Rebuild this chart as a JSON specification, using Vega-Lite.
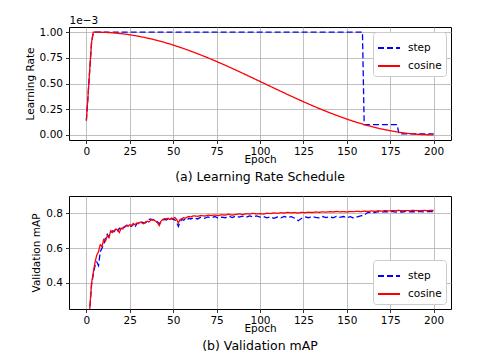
{
  "$schema": "https://vega.github.io/schema/vega-lite/v6.json",
  "background": "white",
  "padding": {"left": 24, "top": 14, "right": 5, "bottom": 5},
  "config": {
    "font": "DejaVu Sans",
    "view": {"stroke": "black", "strokeWidth": 1},
    "axis": {"domain": false, "grid": true, "gridColor": "#b0b0b0", "gridWidth": 0.8, "tickColor": "black", "tickSize": 3.5, "tickWidth": 0.8, "labelFont": "DejaVu Sans", "labelFontSize": 10.5, "labelColor": "black", "labelPadding": 3, "titleFont": "DejaVu Sans", "titleFontSize": 10.5, "titleFontWeight": "normal", "titleColor": "black"},
    "legend": {"title": null, "padding": 4, "strokeColor": "#cccccc", "fillColor": "white", "cornerRadius": 3, "symbolType": "stroke", "symbolSize": 484, "symbolStrokeWidth": 1.8, "labelFont": "DejaVu Sans", "labelFontSize": 10.5, "labelColor": "black", "labelOffset": 7, "rowPadding": -10, "offset": 5},
    "title": {"font": "DejaVu Sans", "fontSize": 12.5, "fontWeight": "normal", "color": "black", "orient": "bottom", "anchor": "middle"},
    "concat": {"spacing": 11}
  },
  "datasets": {
    "lr_step": [
      {"epoch": 0, "lr": 0.14, "series": "step"},
      {"epoch": 1, "lr": 0.39, "series": "step"},
      {"epoch": 2, "lr": 0.65, "series": "step"},
      {"epoch": 3, "lr": 0.9, "series": "step"},
      {"epoch": 4, "lr": 1.0, "series": "step"},
      {"epoch": 159, "lr": 1.0, "series": "step"},
      {"epoch": 160, "lr": 0.1, "series": "step"},
      {"epoch": 179, "lr": 0.1, "series": "step"},
      {"epoch": 180, "lr": 0.01, "series": "step"},
      {"epoch": 200, "lr": 0.01, "series": "step"}
    ],
    "lr_cos": [
      {"epoch": 0, "lr": 0.14, "series": "cosine"},
      {"epoch": 1, "lr": 0.39, "series": "cosine"},
      {"epoch": 2, "lr": 0.65, "series": "cosine"},
      {"epoch": 3, "lr": 0.9, "series": "cosine"},
      {"epoch": 4, "lr": 1.0, "series": "cosine"},
      {"epoch": 5, "lr": 1.0, "series": "cosine"},
      {"epoch": 10, "lr": 0.9984, "series": "cosine"},
      {"epoch": 15, "lr": 0.9935, "series": "cosine"},
      {"epoch": 20, "lr": 0.9855, "series": "cosine"},
      {"epoch": 25, "lr": 0.9743, "series": "cosine"},
      {"epoch": 30, "lr": 0.96, "series": "cosine"},
      {"epoch": 35, "lr": 0.9427, "series": "cosine"},
      {"epoch": 40, "lr": 0.9226, "series": "cosine"},
      {"epoch": 45, "lr": 0.8998, "series": "cosine"},
      {"epoch": 50, "lr": 0.8743, "series": "cosine"},
      {"epoch": 55, "lr": 0.8463, "series": "cosine"},
      {"epoch": 60, "lr": 0.8161, "series": "cosine"},
      {"epoch": 65, "lr": 0.784, "series": "cosine"},
      {"epoch": 70, "lr": 0.75, "series": "cosine"},
      {"epoch": 75, "lr": 0.7143, "series": "cosine"},
      {"epoch": 80, "lr": 0.6773, "series": "cosine"},
      {"epoch": 85, "lr": 0.6391, "series": "cosine"},
      {"epoch": 90, "lr": 0.6, "series": "cosine"},
      {"epoch": 95, "lr": 0.5603, "series": "cosine"},
      {"epoch": 100, "lr": 0.5201, "series": "cosine"},
      {"epoch": 105, "lr": 0.4799, "series": "cosine"},
      {"epoch": 110, "lr": 0.4397, "series": "cosine"},
      {"epoch": 115, "lr": 0.4, "series": "cosine"},
      {"epoch": 120, "lr": 0.3609, "series": "cosine"},
      {"epoch": 125, "lr": 0.3227, "series": "cosine"},
      {"epoch": 130, "lr": 0.2857, "series": "cosine"},
      {"epoch": 135, "lr": 0.25, "series": "cosine"},
      {"epoch": 140, "lr": 0.216, "series": "cosine"},
      {"epoch": 145, "lr": 0.1839, "series": "cosine"},
      {"epoch": 150, "lr": 0.1537, "series": "cosine"},
      {"epoch": 155, "lr": 0.1257, "series": "cosine"},
      {"epoch": 160, "lr": 0.1002, "series": "cosine"},
      {"epoch": 165, "lr": 0.0774, "series": "cosine"},
      {"epoch": 170, "lr": 0.0573, "series": "cosine"},
      {"epoch": 175, "lr": 0.04, "series": "cosine"},
      {"epoch": 180, "lr": 0.0257, "series": "cosine"},
      {"epoch": 185, "lr": 0.0145, "series": "cosine"},
      {"epoch": 190, "lr": 0.0065, "series": "cosine"},
      {"epoch": 195, "lr": 0.0016, "series": "cosine"},
      {"epoch": 200, "lr": 0.0, "series": "cosine"}
    ],
    "map_step": [
      {"epoch": 1, "map": 0.11, "series": "step"}, {"epoch": 2, "map": 0.25, "series": "step"}, {"epoch": 3, "map": 0.39, "series": "step"}, {"epoch": 4, "map": 0.45, "series": "step"}, {"epoch": 5, "map": 0.5, "series": "step"}, {"epoch": 6, "map": 0.52, "series": "step"}, {"epoch": 7, "map": 0.5, "series": "step"}, {"epoch": 8, "map": 0.58, "series": "step"}, {"epoch": 9, "map": 0.6, "series": "step"}, {"epoch": 10, "map": 0.62, "series": "step"},
      {"epoch": 11, "map": 0.66, "series": "step"}, {"epoch": 12, "map": 0.68, "series": "step"}, {"epoch": 13, "map": 0.665, "series": "step"}, {"epoch": 14, "map": 0.69, "series": "step"}, {"epoch": 15, "map": 0.7, "series": "step"}, {"epoch": 16, "map": 0.695, "series": "step"}, {"epoch": 17, "map": 0.71, "series": "step"}, {"epoch": 18, "map": 0.7, "series": "step"}, {"epoch": 19, "map": 0.715, "series": "step"}, {"epoch": 20, "map": 0.705, "series": "step"},
      {"epoch": 21, "map": 0.72, "series": "step"}, {"epoch": 22, "map": 0.72, "series": "step"}, {"epoch": 23, "map": 0.73, "series": "step"}, {"epoch": 24, "map": 0.735, "series": "step"}, {"epoch": 25, "map": 0.73, "series": "step"}, {"epoch": 26, "map": 0.725, "series": "step"}, {"epoch": 27, "map": 0.74, "series": "step"}, {"epoch": 28, "map": 0.72, "series": "step"}, {"epoch": 29, "map": 0.74, "series": "step"}, {"epoch": 30, "map": 0.745, "series": "step"},
      {"epoch": 31, "map": 0.74, "series": "step"}, {"epoch": 32, "map": 0.75, "series": "step"}, {"epoch": 33, "map": 0.745, "series": "step"}, {"epoch": 34, "map": 0.745, "series": "step"}, {"epoch": 35, "map": 0.755, "series": "step"}, {"epoch": 36, "map": 0.765, "series": "step"}, {"epoch": 37, "map": 0.768, "series": "step"}, {"epoch": 38, "map": 0.762, "series": "step"}, {"epoch": 39, "map": 0.765, "series": "step"}, {"epoch": 40, "map": 0.758, "series": "step"},
      {"epoch": 41, "map": 0.75, "series": "step"}, {"epoch": 42, "map": 0.74, "series": "step"}, {"epoch": 43, "map": 0.752, "series": "step"}, {"epoch": 44, "map": 0.76, "series": "step"}, {"epoch": 45, "map": 0.765, "series": "step"}, {"epoch": 46, "map": 0.762, "series": "step"}, {"epoch": 47, "map": 0.768, "series": "step"}, {"epoch": 48, "map": 0.76, "series": "step"}, {"epoch": 49, "map": 0.77, "series": "step"}, {"epoch": 50, "map": 0.765, "series": "step"},
      {"epoch": 51, "map": 0.762, "series": "step"}, {"epoch": 52, "map": 0.748, "series": "step"}, {"epoch": 53, "map": 0.725, "series": "step"}, {"epoch": 54, "map": 0.752, "series": "step"}, {"epoch": 55, "map": 0.765, "series": "step"}, {"epoch": 56, "map": 0.76, "series": "step"}, {"epoch": 57, "map": 0.768, "series": "step"}, {"epoch": 58, "map": 0.762, "series": "step"}, {"epoch": 59, "map": 0.772, "series": "step"}, {"epoch": 60, "map": 0.768, "series": "step"},
      {"epoch": 62, "map": 0.775, "series": "step"}, {"epoch": 64, "map": 0.768, "series": "step"}, {"epoch": 66, "map": 0.778, "series": "step"}, {"epoch": 68, "map": 0.772, "series": "step"}, {"epoch": 70, "map": 0.78, "series": "step"}, {"epoch": 72, "map": 0.775, "series": "step"}, {"epoch": 74, "map": 0.782, "series": "step"}, {"epoch": 76, "map": 0.772, "series": "step"}, {"epoch": 78, "map": 0.778, "series": "step"}, {"epoch": 80, "map": 0.775, "series": "step"},
      {"epoch": 82, "map": 0.784, "series": "step"}, {"epoch": 84, "map": 0.776, "series": "step"}, {"epoch": 86, "map": 0.785, "series": "step"}, {"epoch": 88, "map": 0.779, "series": "step"}, {"epoch": 90, "map": 0.784, "series": "step"}, {"epoch": 92, "map": 0.778, "series": "step"}, {"epoch": 94, "map": 0.786, "series": "step"}, {"epoch": 96, "map": 0.78, "series": "step"}, {"epoch": 98, "map": 0.785, "series": "step"}, {"epoch": 100, "map": 0.779, "series": "step"},
      {"epoch": 102, "map": 0.782, "series": "step"}, {"epoch": 104, "map": 0.774, "series": "step"}, {"epoch": 106, "map": 0.78, "series": "step"}, {"epoch": 108, "map": 0.772, "series": "step"}, {"epoch": 110, "map": 0.779, "series": "step"}, {"epoch": 112, "map": 0.774, "series": "step"}, {"epoch": 114, "map": 0.782, "series": "step"}, {"epoch": 116, "map": 0.776, "series": "step"}, {"epoch": 118, "map": 0.781, "series": "step"}, {"epoch": 120, "map": 0.772, "series": "step"},
      {"epoch": 122, "map": 0.758, "series": "step"}, {"epoch": 124, "map": 0.772, "series": "step"}, {"epoch": 126, "map": 0.78, "series": "step"}, {"epoch": 128, "map": 0.775, "series": "step"}, {"epoch": 130, "map": 0.783, "series": "step"}, {"epoch": 132, "map": 0.777, "series": "step"}, {"epoch": 134, "map": 0.774, "series": "step"}, {"epoch": 136, "map": 0.782, "series": "step"}, {"epoch": 138, "map": 0.776, "series": "step"}, {"epoch": 140, "map": 0.781, "series": "step"},
      {"epoch": 142, "map": 0.775, "series": "step"}, {"epoch": 144, "map": 0.783, "series": "step"}, {"epoch": 146, "map": 0.777, "series": "step"}, {"epoch": 148, "map": 0.782, "series": "step"}, {"epoch": 150, "map": 0.775, "series": "step"}, {"epoch": 152, "map": 0.781, "series": "step"}, {"epoch": 154, "map": 0.773, "series": "step"}, {"epoch": 156, "map": 0.78, "series": "step"}, {"epoch": 158, "map": 0.786, "series": "step"}, {"epoch": 160, "map": 0.79, "series": "step"},
      {"epoch": 162, "map": 0.805, "series": "step"}, {"epoch": 164, "map": 0.807, "series": "step"}, {"epoch": 166, "map": 0.805, "series": "step"}, {"epoch": 168, "map": 0.81, "series": "step"}, {"epoch": 170, "map": 0.807, "series": "step"}, {"epoch": 172, "map": 0.81, "series": "step"}, {"epoch": 174, "map": 0.808, "series": "step"}, {"epoch": 176, "map": 0.811, "series": "step"}, {"epoch": 178, "map": 0.807, "series": "step"}, {"epoch": 180, "map": 0.81, "series": "step"},
      {"epoch": 182, "map": 0.808, "series": "step"}, {"epoch": 184, "map": 0.811, "series": "step"}, {"epoch": 186, "map": 0.809, "series": "step"}, {"epoch": 188, "map": 0.81, "series": "step"}, {"epoch": 190, "map": 0.808, "series": "step"}, {"epoch": 192, "map": 0.811, "series": "step"}, {"epoch": 194, "map": 0.809, "series": "step"}, {"epoch": 196, "map": 0.81, "series": "step"}, {"epoch": 198, "map": 0.81, "series": "step"}, {"epoch": 200, "map": 0.81, "series": "step"}
    ],
    "map_cos": [
      {"epoch": 1, "map": 0.12, "series": "cosine"}, {"epoch": 2, "map": 0.26, "series": "cosine"}, {"epoch": 3, "map": 0.4, "series": "cosine"}, {"epoch": 4, "map": 0.46, "series": "cosine"}, {"epoch": 5, "map": 0.52, "series": "cosine"}, {"epoch": 6, "map": 0.56, "series": "cosine"}, {"epoch": 7, "map": 0.58, "series": "cosine"}, {"epoch": 8, "map": 0.62, "series": "cosine"}, {"epoch": 9, "map": 0.61, "series": "cosine"}, {"epoch": 10, "map": 0.65, "series": "cosine"},
      {"epoch": 11, "map": 0.64, "series": "cosine"}, {"epoch": 12, "map": 0.67, "series": "cosine"}, {"epoch": 13, "map": 0.66, "series": "cosine"}, {"epoch": 14, "map": 0.7, "series": "cosine"}, {"epoch": 15, "map": 0.69, "series": "cosine"}, {"epoch": 16, "map": 0.7, "series": "cosine"}, {"epoch": 17, "map": 0.71, "series": "cosine"}, {"epoch": 18, "map": 0.705, "series": "cosine"}, {"epoch": 19, "map": 0.69, "series": "cosine"}, {"epoch": 20, "map": 0.715, "series": "cosine"},
      {"epoch": 21, "map": 0.71, "series": "cosine"}, {"epoch": 22, "map": 0.725, "series": "cosine"}, {"epoch": 23, "map": 0.73, "series": "cosine"}, {"epoch": 24, "map": 0.725, "series": "cosine"}, {"epoch": 25, "map": 0.735, "series": "cosine"}, {"epoch": 26, "map": 0.73, "series": "cosine"}, {"epoch": 27, "map": 0.74, "series": "cosine"}, {"epoch": 28, "map": 0.735, "series": "cosine"}, {"epoch": 29, "map": 0.745, "series": "cosine"}, {"epoch": 30, "map": 0.74, "series": "cosine"},
      {"epoch": 31, "map": 0.75, "series": "cosine"}, {"epoch": 32, "map": 0.745, "series": "cosine"}, {"epoch": 33, "map": 0.74, "series": "cosine"}, {"epoch": 34, "map": 0.75, "series": "cosine"}, {"epoch": 35, "map": 0.755, "series": "cosine"}, {"epoch": 36, "map": 0.75, "series": "cosine"}, {"epoch": 37, "map": 0.76, "series": "cosine"}, {"epoch": 38, "map": 0.765, "series": "cosine"}, {"epoch": 39, "map": 0.76, "series": "cosine"}, {"epoch": 40, "map": 0.755, "series": "cosine"},
      {"epoch": 41, "map": 0.745, "series": "cosine"}, {"epoch": 42, "map": 0.73, "series": "cosine"}, {"epoch": 43, "map": 0.755, "series": "cosine"}, {"epoch": 44, "map": 0.765, "series": "cosine"}, {"epoch": 45, "map": 0.77, "series": "cosine"}, {"epoch": 46, "map": 0.768, "series": "cosine"}, {"epoch": 47, "map": 0.772, "series": "cosine"}, {"epoch": 48, "map": 0.765, "series": "cosine"}, {"epoch": 49, "map": 0.773, "series": "cosine"}, {"epoch": 50, "map": 0.77, "series": "cosine"},
      {"epoch": 51, "map": 0.776, "series": "cosine"}, {"epoch": 52, "map": 0.765, "series": "cosine"}, {"epoch": 53, "map": 0.745, "series": "cosine"}, {"epoch": 54, "map": 0.765, "series": "cosine"}, {"epoch": 55, "map": 0.77, "series": "cosine"}, {"epoch": 56, "map": 0.775, "series": "cosine"}, {"epoch": 57, "map": 0.772, "series": "cosine"}, {"epoch": 58, "map": 0.778, "series": "cosine"}, {"epoch": 59, "map": 0.782, "series": "cosine"}, {"epoch": 60, "map": 0.78, "series": "cosine"},
      {"epoch": 62, "map": 0.786, "series": "cosine"}, {"epoch": 64, "map": 0.783, "series": "cosine"}, {"epoch": 66, "map": 0.788, "series": "cosine"}, {"epoch": 68, "map": 0.785, "series": "cosine"}, {"epoch": 70, "map": 0.79, "series": "cosine"}, {"epoch": 72, "map": 0.788, "series": "cosine"}, {"epoch": 74, "map": 0.791, "series": "cosine"}, {"epoch": 76, "map": 0.787, "series": "cosine"}, {"epoch": 78, "map": 0.792, "series": "cosine"}, {"epoch": 80, "map": 0.79, "series": "cosine"},
      {"epoch": 82, "map": 0.795, "series": "cosine"}, {"epoch": 84, "map": 0.79, "series": "cosine"}, {"epoch": 86, "map": 0.794, "series": "cosine"}, {"epoch": 88, "map": 0.797, "series": "cosine"}, {"epoch": 90, "map": 0.793, "series": "cosine"}, {"epoch": 92, "map": 0.798, "series": "cosine"}, {"epoch": 94, "map": 0.796, "series": "cosine"}, {"epoch": 96, "map": 0.8, "series": "cosine"}, {"epoch": 98, "map": 0.797, "series": "cosine"}, {"epoch": 100, "map": 0.798, "series": "cosine"},
      {"epoch": 102, "map": 0.796, "series": "cosine"}, {"epoch": 104, "map": 0.801, "series": "cosine"}, {"epoch": 106, "map": 0.799, "series": "cosine"}, {"epoch": 108, "map": 0.803, "series": "cosine"}, {"epoch": 110, "map": 0.8, "series": "cosine"}, {"epoch": 112, "map": 0.804, "series": "cosine"}, {"epoch": 114, "map": 0.802, "series": "cosine"}, {"epoch": 116, "map": 0.806, "series": "cosine"}, {"epoch": 118, "map": 0.803, "series": "cosine"}, {"epoch": 120, "map": 0.805, "series": "cosine"},
      {"epoch": 122, "map": 0.802, "series": "cosine"}, {"epoch": 124, "map": 0.806, "series": "cosine"}, {"epoch": 126, "map": 0.804, "series": "cosine"}, {"epoch": 128, "map": 0.807, "series": "cosine"}, {"epoch": 130, "map": 0.805, "series": "cosine"}, {"epoch": 132, "map": 0.808, "series": "cosine"}, {"epoch": 134, "map": 0.806, "series": "cosine"}, {"epoch": 136, "map": 0.809, "series": "cosine"}, {"epoch": 138, "map": 0.807, "series": "cosine"}, {"epoch": 140, "map": 0.81, "series": "cosine"},
      {"epoch": 142, "map": 0.808, "series": "cosine"}, {"epoch": 144, "map": 0.811, "series": "cosine"}, {"epoch": 146, "map": 0.809, "series": "cosine"}, {"epoch": 148, "map": 0.81, "series": "cosine"}, {"epoch": 150, "map": 0.808, "series": "cosine"}, {"epoch": 152, "map": 0.811, "series": "cosine"}, {"epoch": 154, "map": 0.81, "series": "cosine"}, {"epoch": 156, "map": 0.812, "series": "cosine"}, {"epoch": 158, "map": 0.81, "series": "cosine"}, {"epoch": 160, "map": 0.813, "series": "cosine"},
      {"epoch": 162, "map": 0.811, "series": "cosine"}, {"epoch": 164, "map": 0.814, "series": "cosine"}, {"epoch": 166, "map": 0.812, "series": "cosine"}, {"epoch": 168, "map": 0.815, "series": "cosine"}, {"epoch": 170, "map": 0.813, "series": "cosine"}, {"epoch": 172, "map": 0.816, "series": "cosine"}, {"epoch": 174, "map": 0.814, "series": "cosine"}, {"epoch": 176, "map": 0.816, "series": "cosine"}, {"epoch": 178, "map": 0.815, "series": "cosine"}, {"epoch": 180, "map": 0.817, "series": "cosine"},
      {"epoch": 182, "map": 0.815, "series": "cosine"}, {"epoch": 184, "map": 0.816, "series": "cosine"}, {"epoch": 186, "map": 0.815, "series": "cosine"}, {"epoch": 188, "map": 0.817, "series": "cosine"}, {"epoch": 190, "map": 0.816, "series": "cosine"}, {"epoch": 192, "map": 0.815, "series": "cosine"}, {"epoch": 194, "map": 0.817, "series": "cosine"}, {"epoch": 196, "map": 0.816, "series": "cosine"}, {"epoch": 198, "map": 0.817, "series": "cosine"}, {"epoch": 200, "map": 0.817, "series": "cosine"}
    ]
  },
  "vconcat": [
    {
      "width": 382,
      "height": 113,
      "title": {"text": "(a) Learning Rate Schedule", "orient": "bottom", "offset": 6},
      "resolve": {"axis": {"x": "independent"}},
      "encoding": {
        "y": {"field": "lr", "type": "quantitative", "scale": {"domain": [-0.05, 1.05], "nice": false, "zero": false}, "axis": {"values": [0, 0.25, 0.5, 0.75, 1], "format": ".2f", "title": "Learning Rate", "titlePadding": 4}},
        "color": {"field": "series", "type": "nominal", "scale": {"domain": ["step", "cosine"], "range": ["#0000ff", "#ff0000"]}, "legend": {"orient": "top-right"}},
        "strokeDash": {"field": "series", "type": "nominal", "scale": {"domain": ["step", "cosine"], "range": [[6, 3], [1, 0]]}, "legend": {"orient": "top-right"}}
      },
      "layer": [
        {
          "data": {"name": "lr_step"},
          "mark": {"type": "line", "strokeWidth": 1.3},
          "encoding": {
            "x": {"field": "epoch", "type": "quantitative", "scale": {"domain": [-10, 210], "nice": false, "zero": false}, "axis": {"orient": "bottom", "values": [0, 25, 50, 75, 100, 125, 150, 175, 200], "title": "Epoch", "titleY": 22, "titleBaseline": "alphabetic"}}
          }
        },
        {
          "data": {"name": "lr_cos"},
          "mark": {"type": "line", "strokeWidth": 1.3},
          "encoding": {
            "x": {"field": "epoch", "type": "quantitative", "scale": {"domain": [-10, 210], "nice": false, "zero": false}, "axis": {"orient": "top", "title": "1e−3", "titleAnchor": "start", "titleAlign": "left", "titlePadding": 2, "labels": false, "ticks": false, "grid": false, "domain": false}}
          }
        }
      ]
    },
    {
      "width": 382,
      "height": 113,
      "title": {"text": "(b) Validation mAP", "orient": "bottom", "offset": 6},
      "encoding": {
        "x": {"field": "epoch", "type": "quantitative", "scale": {"domain": [-10, 210], "nice": false, "zero": false}, "axis": {"values": [0, 25, 50, 75, 100, 125, 150, 175, 200], "title": "Epoch", "titleY": 22, "titleBaseline": "alphabetic"}},
        "y": {"field": "map", "type": "quantitative", "scale": {"domain": [0.25, 0.9], "nice": false, "zero": false}, "axis": {"values": [0.4, 0.6, 0.8], "format": ".1f", "title": "Validation mAP", "titlePadding": 4}},
        "color": {"field": "series", "type": "nominal", "scale": {"domain": ["step", "cosine"], "range": ["#0000ff", "#ff0000"]}, "legend": {"orient": "bottom-right"}},
        "strokeDash": {"field": "series", "type": "nominal", "scale": {"domain": ["step", "cosine"], "range": [[6, 3], [1, 0]]}, "legend": {"orient": "bottom-right"}}
      },
      "layer": [
        {"data": {"name": "map_step"}, "mark": {"type": "line", "strokeWidth": 1.3, "clip": true}},
        {"data": {"name": "map_cos"}, "mark": {"type": "line", "strokeWidth": 1.3, "clip": true}}
      ]
    }
  ]
}
